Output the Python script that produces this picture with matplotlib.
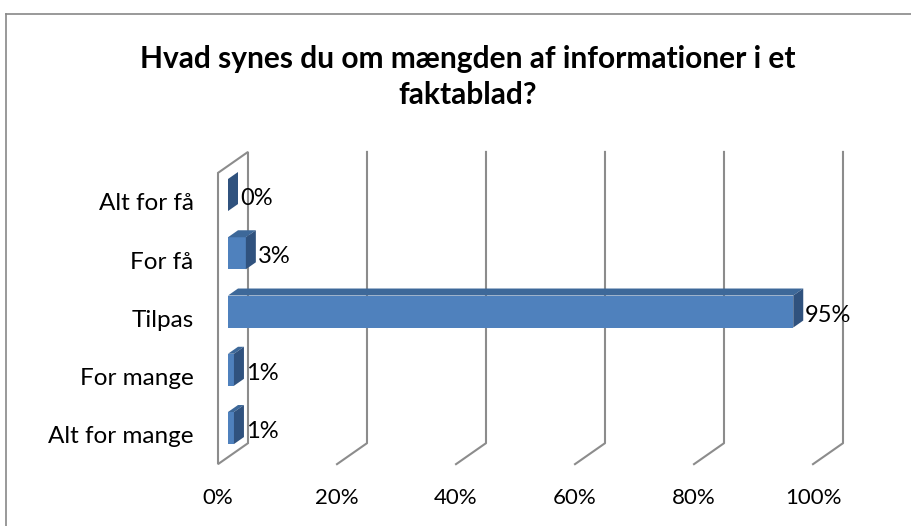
import numpy as np
import matplotlib
matplotlib.use("Agg")
import matplotlib.pyplot as plt
from matplotlib.patches import Polygon
from matplotlib.lines import Line2D

plt.rcParams['font.family'] = ['Lato', 'DejaVu Sans']

title = "Hvad synes du om mængden af informationer i et\nfaktablad?"
categories = ["Alt for få", "For få", "Tilpas", "For mange", "Alt for mange"]
values = [0, 3, 95, 1, 1]
ticks = [0, 20, 40, 60, 80, 100]

# pseudo-3D geometry (depth offset per unit of depth, in data units)
DX, DY = 5.04, -0.36
BAR_H = 0.55
FRONT, BACK = 1 / 3, 2 / 3

front_c = "#4F81BD"
top_c = "#3D6899"
side_c = "#30527E"
grid_c = "#8C8C8C"


def P(v, y, s):
    return (v + s * DX, y + s * DY)


fig = plt.figure(figsize=(9.11, 5.26), dpi=100)
ax = fig.add_axes([0, 0, 1, 1])
ax.set_xlim(-36.64, 116.47)
ax.set_ylim(5.562, -3.468)
ax.axis("off")

y_top, y_bot = -0.5, 4.5

# back wall gridlines and floor lines
for t in ticks[1:]:
    ax.plot(*zip(P(t, y_top, 1), P(t, y_bot, 1), P(t, y_bot, 0)),
            color=grid_c, lw=1.5, zorder=1)
for t in ticks:
    ax.text(t, y_bot + 0.58, f"{t}%", ha="center", va="center", fontsize=16)

# left side wall
wall = Polygon([P(0, y_bot, 0), P(0, y_top, 0), P(0, y_top, 1), P(0, y_bot, 1)],
               closed=True, facecolor="white", edgecolor=grid_c, lw=1.5, zorder=1)
ax.add_patch(wall)

for i, (cat, v) in enumerate(zip(categories, values)):
    y0, y1 = i - BAR_H / 2, i + BAR_H / 2
    if v > 0:
        # front face
        ax.add_patch(Polygon([P(0, y0, FRONT), P(v, y0, FRONT), P(v, y1, FRONT), P(0, y1, FRONT)],
                             closed=True, facecolor=front_c, edgecolor="none", zorder=3))
        # top face
        ax.add_patch(Polygon([P(0, y0, FRONT), P(v, y0, FRONT), P(v, y0, BACK), P(0, y0, BACK)],
                             closed=True, facecolor=top_c, edgecolor="none", zorder=3))
    # end face
    ax.add_patch(Polygon([P(v, y0, FRONT), P(v, y0, BACK), P(v, y1, BACK), P(v, y1, FRONT)],
                         closed=True, facecolor=side_c, edgecolor="none", zorder=3))
    lx, ly = P(v, i, BACK)
    ax.text(lx + 0.3, i - 0.06, f"{v}%", ha="left", va="center", fontsize=17, zorder=4)
    ax.text(-4.1, i + 0.03, cat, ha="right", va="center", fontsize=17.5)

fig.text(0.513, 0.853, title, ha="center", va="center", fontsize=21.5,
         fontweight="bold", linespacing=1.35)

# chart area border
fig.add_artist(Line2D([5.5 / 911, 5.5 / 911], [0, 1 - 13.5 / 526], color="#888888", lw=1.2))
fig.add_artist(Line2D([5.5 / 911, 1], [1 - 13.5 / 526, 1 - 13.5 / 526], color="#888888", lw=1.2))

fig.savefig("out.png", dpi=100)
